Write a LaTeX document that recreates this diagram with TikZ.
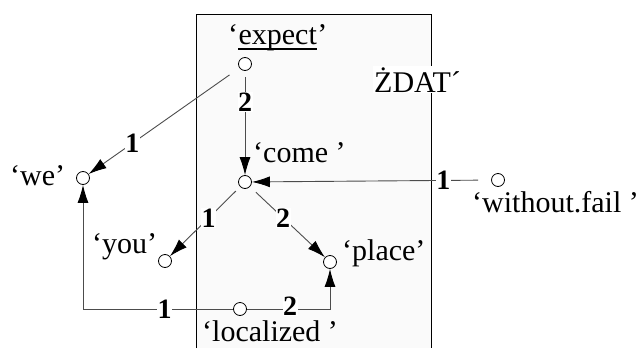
\documentclass[tikz,border=0pt]{standalone}
\usepackage{fontspec}
\setmainfont{Liberation Serif}
\usetikzlibrary{arrows.meta}
\definecolor{boxfill}{HTML}{FAFAFA}
\tikzset{
  dot/.style={circle,draw=black,fill=white,line width=0.8pt,minimum size=13pt,inner sep=0pt},
  edge/.style={draw=black!70,line width=0.9pt,-{Latex[length=18pt,width=11pt,black]}},
  lab/.style={fill=white,inner sep=0.5pt,font=\fontsize{28}{30}\selectfont\bfseries},
  word/.style={anchor=base west,inner sep=0pt,font=\fontsize{30}{36}\selectfont},
}
\begin{document}
\begin{tikzpicture}[x=1pt,y=-1pt]
\useasboundingbox[fill=white] (0,0) rectangle (639,348);
% frame
\fill[boxfill] (196,14) rectangle (431,348);
\draw[line width=0.9pt] (196,348) -- (196,14) -- (431,14) -- (431,348);
% nodes
\node[dot] (expect) at (245,64) {};
\node[dot] (we) at (83,178) {};
\node[dot] (come) at (245,182) {};
\node[dot] (wf) at (498,180) {};
\node[dot] (you) at (165,261) {};
\node[dot] (place) at (330,262) {};
\node[dot] (loc) at (240,309) {};
% labels
\node[word] (q1) at (228,44) {‘};
\node[word] (lexpect) at (q1.base east) {expect};
\node[word] (q2) at (lexpect.base east) {’};
\draw[line width=1.2pt] ([yshift=-5pt]lexpect.base west) -- ([yshift=-5pt]lexpect.base east);
\node[word] (lcome) at (253,162) {‘come ’};
\node[word] (lwe) at (10,185) {‘we’};
\node[word] (lwf) at (472,212) {‘without.fail ’};
\node[word] (lyou) at (92,253) {‘you’};
\node[word] (lplace) at (342,260) {‘place’};
\node[word] (lloc) at (202,341) {‘localized ’};
\node[word,fill=white,inner sep=1pt] (zdat) at (373,92) {ŻDAT´};
% edges
\draw[edge,shorten <=12pt] (expect) -- node[lab,pos=0.71] {1} (we);
\draw[edge,shorten <=6pt] (expect) -- node[lab,pos=0.3] {2} (come);
\draw[edge,shorten <=13pt] (wf) -- node[lab,pos=0.2] {1} (come);
\draw[edge,shorten <=6pt] (come) -- node[lab,pos=0.45] {1} (you);
\draw[edge,shorten <=8pt] (come) -- node[lab,pos=0.44] {2} (place);
\draw[edge] (loc) -| node[lab,pos=0.228] {1} (we);
\draw[edge] (loc) -| node[lab,pos=0.26,yshift=2.5pt] {2} (place);
\end{tikzpicture}
\end{document}
